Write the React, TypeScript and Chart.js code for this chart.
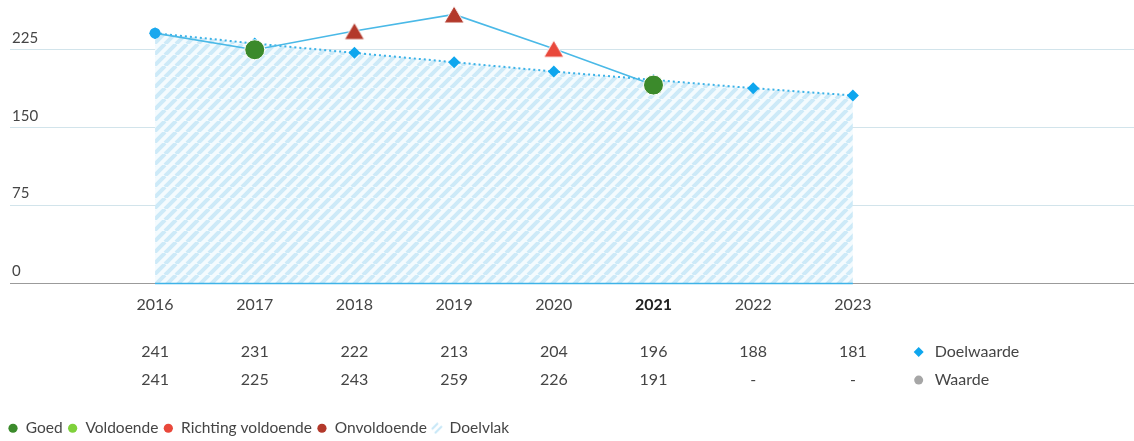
import React, { useEffect, useRef } from 'react';
import { Chart, registerables } from 'chart.js';

Chart.register(...registerables);

// ---- data ----
const years = [2016, 2017, 2018, 2019, 2020, 2021, 2022, 2023];
const doelwaarde = [241, 231, 222, 213, 204, 196, 188, 181];
const waardeYears = [2016, 2017, 2018, 2019, 2020, 2021];
const waarde = [241, 225, 243, 259, 226, 191];
const waardeStatus = ['', 'Goed', 'Onvoldoende', 'Onvoldoende', 'Richting voldoende', 'Goed'];
const yTicks = [0, 75, 150, 225];
const currentYear = 2021;
const statusNames = ['Goed', 'Voldoende', 'Richting voldoende', 'Onvoldoende'];
const areaName = 'Doelvlak';
const rowNames = ['Doelwaarde', 'Waarde'];

// ---- styles ----
const FONT = 'Lato, "Noto Sans", sans-serif';
const TEXT = '#454545';
const statusColor: Record<string, string> = {
  'Goed': '#3b8a2b',
  'Voldoende': '#7fd13b',
  'Richting voldoende': '#e9483b',
  'Onvoldoende': '#b3392b',
};
const triangleStatus = new Set(['Richting voldoende', 'Onvoldoende']);
const LINE_BLUE = '#4ab9e7';
const DOT_BLUE = '#0ea6ee';

function makeTriangle(color: string) {
  const w = 22, h = 19;
  const c = document.createElement('canvas');
  c.width = w; c.height = h;
  const g = c.getContext('2d')!;
  g.beginPath();
  g.moveTo(w / 2, 1);
  g.lineTo(w - 1, h - 1);
  g.lineTo(1, h - 1);
  g.closePath();
  g.fillStyle = color;
  g.fill();
  g.lineJoin = 'round';
  g.strokeStyle = '#ffffff';
  g.lineWidth = 1;
  g.stroke();
  return c;
}

function makeHatchCanvas(size: number, bg: string | null) {
  const c = document.createElement('canvas');
  c.width = size; c.height = size;
  const g = c.getContext('2d')!;
  if (bg) { g.fillStyle = bg; g.fillRect(0, 0, size, size); }
  g.strokeStyle = '#cdeaf8';
  g.lineWidth = 4;
  g.beginPath();
  for (const o of [-size, 0, size]) {
    g.moveTo(o, size);
    g.lineTo(o + size, 0);
  }
  g.stroke();
  return c;
}

function makeLegendHatch() {
  const c = document.createElement('canvas');
  c.width = 12; c.height = 12;
  const g = c.getContext('2d')!;
  g.strokeStyle = '#c6e7f7';
  g.lineWidth = 2;
  g.beginPath();
  g.moveTo(1, 7); g.lineTo(7, 1);
  g.moveTo(4, 11); g.lineTo(11, 4);
  g.stroke();
  return c;
}

export default function App() {
  const ref = useRef<HTMLCanvasElement | null>(null);

  useEffect(() => {
    document.body.style.margin = '0';
    const canvas = ref.current!;
    const hatchCanvas = makeHatchCanvas(11, '#f4fbfe');
    const pattern = canvas.getContext('2d')!.createPattern(hatchCanvas, 'repeat');
    const triangles: Record<string, HTMLCanvasElement> = {
      'Richting voldoende': makeTriangle(statusColor['Richting voldoende']),
      'Onvoldoende': makeTriangle(statusColor['Onvoldoende']),
    };
    const legendHatch = makeLegendHatch();

    const pointStyles = waardeStatus.map((s) => (triangleStatus.has(s) ? triangles[s] : 'circle'));
    const pointRadii = waardeStatus.map((s) => (s ? 10 : 5.5));
    const pointColors = waardeStatus.map((s) => (s ? statusColor[s] : '#1aa8ee'));
    const pointBorders = waardeStatus.map((s) => (s ? 1 : 0));

    const X_MIN = 2014.545;
    const X_MAX = 2025.82;
    const setYearTicks = (s: any) => { s.ticks = years.map((v) => ({ value: v })); };
    const fitH = (h: number) => (s: any) => {
      s.height = h;
      s.paddingLeft = 0; s.paddingRight = 0; s.paddingTop = 0; s.paddingBottom = 0;
    };
    const baseX = {
      type: 'linear' as const,
      min: X_MIN,
      max: X_MAX,
      position: 'bottom' as const,
      grid: { display: false, drawTicks: false },
      border: { display: false },
      afterBuildTicks: setYearTicks,
    };

    const extras = {
      id: 'extras',
      afterDatasetsDraw(chart: any) {
        const { ctx, scales } = chart;
        const xs = scales.x, ys = scales.y;
        const y0 = ys.getPixelForValue(0);
        ctx.save();
        ctx.strokeStyle = '#3fb3e8';
        ctx.lineWidth = 1.5;
        ctx.beginPath();
        ctx.moveTo(xs.getPixelForValue(years[0]), y0);
        ctx.lineTo(xs.getPixelForValue(years[years.length - 1]), y0);
        ctx.stroke();
        ctx.restore();
      },
      afterDraw(chart: any) {
        const { ctx, scales } = chart;
        const rows = [scales.x2, scales.x3];
        const mx = scales.x.getPixelForValue(2023.66);
        ctx.save();
        ctx.font = `16px ${FONT}`;
        ctx.textBaseline = 'middle';
        ctx.textAlign = 'left';
        rows.forEach((s: any, i: number) => {
          const cy = s.top + s.options.ticks.padding + 9.6;
          ctx.fillStyle = i === 0 ? DOT_BLUE : '#a6a6a6';
          ctx.beginPath();
          if (i === 0) {
            ctx.moveTo(mx - 5, cy); ctx.lineTo(mx, cy - 5); ctx.lineTo(mx + 5, cy); ctx.lineTo(mx, cy + 5);
            ctx.closePath();
          } else {
            ctx.arc(mx, cy, 4.5, 0, Math.PI * 2);
          }
          ctx.fill();
          ctx.fillStyle = TEXT;
          ctx.fillText(rowNames[i], mx + 16, cy);
        });
        ctx.restore();
      },
    };

    const chart = new Chart(canvas, {
      type: 'line',
      data: {
        datasets: [
          {
            label: rowNames[1],
            data: waardeYears.map((x, i) => ({ x, y: waarde[i] })),
            borderColor: LINE_BLUE,
            borderWidth: 1.6,
            pointStyle: pointStyles as any,
            pointRadius: pointRadii,
            pointBackgroundColor: pointColors,
            pointBorderColor: '#ffffff',
            pointBorderWidth: pointBorders,
            fill: false,
            tension: 0,
          },
          {
            label: rowNames[0],
            data: years.map((x, i) => ({ x, y: doelwaarde[i] })),
            borderColor: '#3cb2e7',
            borderWidth: 2,
            borderDash: [2, 3],
            pointStyle: 'rectRot',
            pointRadius: 6,
            pointBackgroundColor: DOT_BLUE,
            pointBorderWidth: 0,
            fill: 'origin',
            backgroundColor: pattern as any,
            tension: 0,
          },
        ],
      },
      options: {
        animation: false,
        responsive: false,
        clip: false as any,
        layout: { autoPadding: false, padding: { left: 3, right: 0, top: 3, bottom: -5 } },
        plugins: {
          tooltip: { enabled: false },
          legend: {
            position: 'bottom',
            align: 'start',
            onClick: () => {},
            labels: {
              usePointStyle: true,
              boxWidth: 10,
              boxHeight: 6.5,
              padding: 5,
              color: TEXT,
              font: { family: FONT, size: 15.5 },
              generateLabels: () => [
                ...statusNames.map((t) => ({
                  text: t,
                  fillStyle: statusColor[t],
                  strokeStyle: statusColor[t],
                  lineWidth: 0,
                  pointStyle: 'circle' as const,
                  hidden: false,
                  fontColor: TEXT,
                })),
                {
                  text: areaName,
                  fillStyle: '#cdeaf8',
                  strokeStyle: '#cdeaf8',
                  lineWidth: 0,
                  pointStyle: legendHatch as any,
                  hidden: false,
                  fontColor: TEXT,
                },
              ],
            },
          },
        },
        scales: {
          x: {
            ...baseX,
            weight: 0,
            ticks: {
              padding: 12,
              autoSkip: false,
              maxRotation: 0,
              callback: (v: any) => String(v),
              color: (c: any) => (c.tick && c.tick.value === currentYear ? '#222' : TEXT),
              font: (c: any) => ({
                family: FONT,
                size: 16,
                weight: c.tick && c.tick.value === currentYear ? 'bold' : 'normal',
              }),
            },
            afterFit: fitH(55),
          },
          x2: {
            ...baseX,
            weight: 1,
            ticks: {
              padding: 4,
              autoSkip: false,
              maxRotation: 0,
              color: TEXT,
              font: { family: FONT, size: 16 },
              callback: (_v: any, i: number) => String(doelwaarde[i]),
            },
            afterFit: fitH(28),
          },
          x3: {
            ...baseX,
            weight: 2,
            ticks: {
              padding: 4,
              autoSkip: false,
              maxRotation: 0,
              color: TEXT,
              font: { family: FONT, size: 16 },
              callback: (_v: any, i: number) => (i < waarde.length ? String(waarde[i]) : '-'),
            },
            afterFit: fitH(49),
          },
          y: {
            type: 'linear',
            min: 0,
            max: 270,
            afterBuildTicks: (s: any) => { s.ticks = yTicks.map((v) => ({ value: v })); },
            grid: {
              drawTicks: false,
              lineWidth: 1,
              color: (c: any) => (c.tick && c.tick.value === 0 ? '#9b9b9b' : '#d2e4eb'),
            },
            border: { display: false },
            ticks: {
              mirror: true,
              padding: 2,
              labelOffset: -12,
              color: TEXT,
              font: { family: FONT, size: 15 },
            },
            afterFit: (s: any) => {
              s.width = 7;
              s.paddingLeft = 0; s.paddingRight = 0; s.paddingTop = 0; s.paddingBottom = 0;
            },
          },
        },
      } as any,
      plugins: [extras],
    });

    return () => chart.destroy();
  }, []);

  return (
    <div style={{ width: 1134, height: 441 }}>
      <canvas ref={ref} width={1134} height={441} style={{ display: 'block', width: 1134, height: 441 }} />
    </div>
  );
}
